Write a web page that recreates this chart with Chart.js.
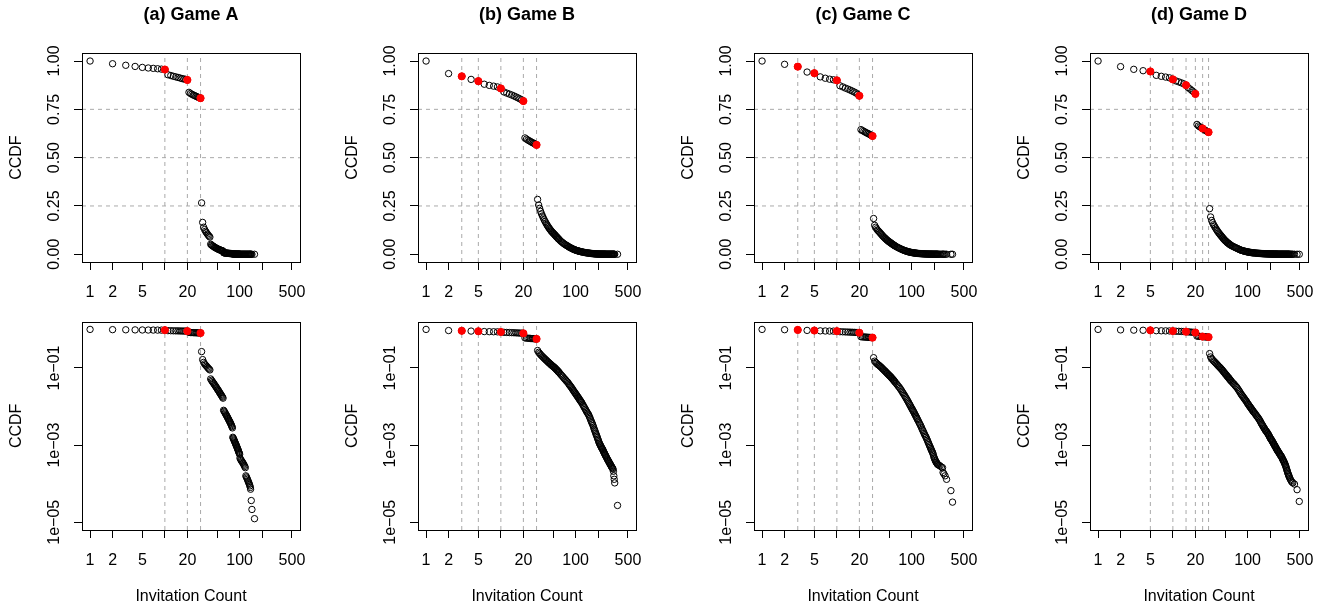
<!DOCTYPE html>
<html>
<head>
<meta charset="utf-8">
<script src="https://cdn.jsdelivr.net/npm/chart.js@4.4.1/dist/chart.umd.min.js"></script>
<style>
  html, body { margin: 0; padding: 0; background: #fff; overflow: hidden; }
  body { width: 1320px; height: 605px; position: relative; }
  canvas { position: absolute; }
</style>
</head>
<body>
<script>
// CCDF of invitation counts (same values feed both rows)
const gameAx = [1,2,3,4,5,6,7,8,9,10, 11,12,13,14,15,16,17,18,19,20, 21,22,23,24,25,26,27,28,29,30,
  31,32,33,34,35,36,37,38,39,40, 41,42,43,44,45,46,47,48,49,50, 51,52,53,54,55,56,57,58,59,60,
  61,62,63,64,65,66,67,68,69,70, 71,72,73,74,75,76,77,78,79,80, 81,82,83,84,85,86,87,88,89,90,
  91,92,93,94,95,96,97,98,99,100, 101,103,105,107,109,111,113,115,117,119,
  121,123,125,127,129,131,133,135,137,139, 140,143,146,158];
const gameAy = [1.000,0.986,0.978,0.972,0.967,0.964,0.962,0.960,0.958,0.956,
  0.929,0.925,0.921,0.918,0.915,0.912,0.909,0.907,0.905,0.902,
  0.838,0.832,0.828,0.824,0.821,0.818,0.815,0.812,0.810,0.808,
  0.266,0.165,0.140,0.128,0.119,0.112,0.105,0.099,0.094,0.089,
  0.052,0.048,0.045,0.042,0.040,0.037,0.035,0.033,0.031,0.029,
  0.0275,0.0260,0.0245,0.0230,0.0218,0.0206,0.0195,0.0185,0.0175,0.0165,
  0.0080,0.0076,0.0072,0.0068,0.0064,0.0061,0.0058,0.0055,0.0052,0.0049,
  0.0047,0.0044,0.0042,0.0040,0.0038,0.0036,0.0034,0.0032,0.0030,0.0028,
  0.00160,0.00152,0.00144,0.00136,0.00129,0.00122,0.00116,0.00110,0.00104,0.00099,
  0.00094,0.00089,0.00084,0.00080,0.00076,0.00072,0.00068,0.00064,0.00061,0.00058,
  0.00046,0.00043,0.00040,0.00038,0.00036,0.00034,0.00032,0.00030,0.00028,0.00026,
  0.00016,0.00015,0.00014,0.00013,0.00012,0.000112,0.000104,0.000096,0.000088,0.000080,
  0.000072,0.0000366,0.0000215,0.0000124];

const gameBx = [1,2,3,4,5,6,7,8,9,10, 11,12,13,14,15,16,17,18,19,20, 21,22,23,24,25,26,27,28,29,30,
  31,32,33,34,35,36,37,38,39,40, 41,42,43,44,45,46,47,48,49,50, 51,52,53,54,55,56,57,58,59,60,
  62,64,66,68,70,72,74,76,78,80, 82,84,86,88,90,92,94,96,98,100, 102,104,106,108,110,112,114,116,118,120,
  123,126,129,132,135,138,141,144,147,150, 153,156,159,162,165,168,171,174,177,180,
  183,186,189,192,195,198,201,204,207,210, 213,216,219,222,225,228,231,234,237,240, 243,246,249,
  252,256,260,264,268,272,276,280,284,288, 292,296,300,304,308,312,316,
  320,324,328,333,363];
const gameBy = [1.000,0.935,0.921,0.905,0.896,0.880,0.874,0.870,0.866,0.858,
  0.840,0.834,0.829,0.824,0.819,0.814,0.809,0.804,0.799,0.793,
  0.602,0.596,0.591,0.587,0.583,0.579,0.576,0.573,0.569,0.566,
  0.284,0.255,0.238,0.222,0.209,0.198,0.188,0.178,0.170,0.162,
  0.155,0.148,0.142,0.136,0.131,0.126,0.121,0.117,0.113,0.110,
  0.106,0.103,0.099,0.096,0.092,0.089,0.086,0.082,0.080,0.077,
  0.071,0.066,0.062,0.058,0.054,0.051,0.048,0.045,0.043,0.040,
  0.037,0.035,0.033,0.031,0.029,0.0272,0.0255,0.0240,0.0227,0.0215,
  0.0203,0.0192,0.0182,0.0173,0.0164,0.0155,0.0147,0.0140,0.0134,0.0128,
  0.0117,0.0108,0.0099,0.0092,0.0085,0.0078,0.0073,0.0068,0.0064,0.0060,
  0.0054,0.0050,0.0045,0.0041,0.0038,0.0035,0.0032,0.0029,0.0026,0.0024,
  0.0022,0.0020,0.00185,0.00171,0.00157,0.00144,0.00133,0.00122,0.00113,0.00107,
  0.00101,0.00096,0.00091,0.00086,0.00082,0.00079,0.00076,0.00071,0.00067,0.00064,
  0.00061,0.00058,0.00055,
  0.00053,0.00050,0.00047,0.00044,0.00042,0.00040,0.00038,0.00036,0.00034,0.00033,
  0.00031,0.00030,0.00028,0.00027,0.00026,0.00025,0.00024,
  0.00021,0.00016,0.00013,0.000105,0.0000273];

const gameCx = [1,2,3,4,5,6,7,8,9,10, 11,12,13,14,15,16,17,18,19,20, 21,22,23,24,25,26,27,28,29,30,
  31,32,33,34,35,36,37,38,39,40, 41,42,43,44,45,46,47,48,49,50, 51,52,53,54,55,56,57,58,59,60,
  62,64,66,68,70,72,74,76,78,80, 82,84,86,88,90,92,94,96,98,100, 102,104,106,108,110,112,114,116,118,120,
  123,126,129,132,135,138,141,144,147,150, 153,156,159,162,165,168,171,174,177,180, 183,186,189,192,
  195,198,201,204,207,210,213,216,219,222,
  226,232,240,250,259,263,270,280,293,335,352];
const gameCy = [1.000,0.983,0.971,0.943,0.937,0.918,0.911,0.906,0.903,0.900,
  0.872,0.866,0.860,0.855,0.850,0.845,0.840,0.835,0.828,0.820,
  0.645,0.640,0.636,0.632,0.628,0.625,0.622,0.618,0.615,0.612,
  0.185,0.150,0.140,0.132,0.125,0.120,0.115,0.110,0.105,0.100,
  0.095,0.091,0.087,0.083,0.080,0.076,0.073,0.070,0.067,0.065,
  0.062,0.060,0.058,0.055,0.053,0.051,0.049,0.047,0.045,0.043,
  0.040,0.037,0.034,0.032,0.0295,0.0272,0.0250,0.0230,0.0213,0.0196,
  0.0181,0.0167,0.0155,0.0143,0.0132,0.0122,0.0113,0.0105,0.0097,0.0090,
  0.0085,0.0079,0.0074,0.0069,0.0064,0.0060,0.0056,0.0053,0.0049,0.0046,
  0.0042,0.0038,0.0035,0.0032,0.0029,0.0026,0.0024,0.0022,0.0020,0.00185,
  0.00170,0.00160,0.00146,0.00134,0.00123,0.00113,0.00104,0.00096,0.00089,0.00082,
  0.00076,0.00071,0.00066,0.00062,
  0.00056,0.00050,0.00046,0.00043,0.00040,0.00038,0.00036,0.00035,0.00033,0.00032,
  0.00031,0.00030,0.00029,0.00027,0.00026,0.000195,0.00018,0.00016,0.00013,0.0000661,0.0000333];

const gameDx = [1,2,3,4,5,6,7,8,9,10, 11,12,13,14,15,16,17,18,19,20, 21,22,23,24,25,26,27,28,29,30,
  31,32,33,34,35,36,37,38,39,40, 41,42,43,44,45,46,47,48,49,50, 51,52,53,54,55,56,57,58,59,60,
  62,64,66,68,70,72,74,76,78,80, 82,84,86,88,90,92,94,96,98,100, 102,104,106,108,110,112,114,116,118,120,
  123,126,129,132,135,138,141,144,147,150, 153,156,159,162,165,168,171,174,177,180,
  183,186,189,192,195,198,201,204,207,210, 213,216,219,222,225,228,231,234,237,240, 243,246,249,
  252,256,260,264,268,272,276,280,284,288, 292,296,300,304,308,312,316,320,324,328,
  332,336,340,344,348,352,356,360, 366,374,382,392,402,423,458,490];
const gameDy = [1.000,0.971,0.957,0.950,0.946,0.926,0.921,0.917,0.913,0.905,
  0.897,0.892,0.887,0.882,0.875,0.863,0.855,0.847,0.840,0.830,
  0.672,0.664,0.659,0.655,0.651,0.646,0.642,0.638,0.635,0.632,
  0.236,0.193,0.175,0.163,0.153,0.145,0.137,0.130,0.123,0.117,
  0.111,0.106,0.101,0.096,0.092,0.087,0.083,0.078,0.075,0.071,
  0.068,0.065,0.062,0.059,0.057,0.055,0.052,0.050,0.048,0.046,
  0.043,0.040,0.038,0.035,0.033,0.031,0.0285,0.0265,0.0245,0.0225,
  0.0208,0.0196,0.0184,0.0173,0.0162,0.0153,0.0145,0.0137,0.0128,0.0120,
  0.0114,0.0108,0.0102,0.0097,0.0093,0.0088,0.0084,0.0080,0.0076,0.0073,
  0.0069,0.0065,0.0061,0.0057,0.0054,0.0051,0.0048,0.0045,0.0042,0.0039,
  0.0036,0.0034,0.0032,0.0030,0.0028,0.0027,0.0025,0.0024,0.0023,0.0022,
  0.0021,0.0020,0.0019,0.0018,0.0017,0.0016,0.0015,0.00145,0.00140,0.00133,
  0.00127,0.00121,0.00116,0.00110,0.00105,0.00100,0.00096,0.00092,0.00088,0.00084,
  0.00080,0.00077,0.00074,
  0.00071,0.00068,0.00065,0.00062,0.00059,0.00056,0.00054,0.00052,0.00050,0.00047,
  0.00044,0.00042,0.00040,0.00038,0.00036,0.00034,0.00032,0.00030,0.00028,0.00026,
  0.00024,0.00022,0.00021,0.00019,0.00018,0.00017,0.00016,0.00015,
  0.00014,0.000128,0.000118,0.00011,0.000105,0.0000978,0.0000700,0.0000347];

// reward thresholds: red dots + dashed vertical lines
const cutsA = [10, 20, 30];
const cutsB = [3, 5, 10, 20, 30];
const cutsC = [3, 5, 10, 20, 30];
const cutsD = [5, 10, 15, 20, 25, 30];

const titles = ['(a) Game A', '(b) Game B', '(c) Game C', '(d) Game D'];

const xTicks = [1, 2, 5, 10, 20, 50, 100, 200, 500];
const xTickLabels = ['1', '2', '5', '', '20', '', '100', '', '500'];
const yTicksLin = [0, 0.25, 0.5, 0.75, 1];
const yLabelsLin = ['0.00', '0.25', '0.50', '0.75', '1.00'];
const yTicksLog = [1e-5, 1e-3, 1e-1];
const yLabelsLog = ['1e\u221205', '1e\u221203', '1e\u221201'];
const hLines = [0.25, 0.5, 0.75];

const gamesX = [gameAx, gameBx, gameCx, gameDx];
const gamesY = [gameAy, gameBy, gameCy, gameDy];
const gameCuts = [cutsA, cutsB, cutsC, cutsD];

Chart.defaults.font.family = '"Liberation Sans", Arial, Helvetica, sans-serif';
Chart.defaults.color = '#000';

// R style 4% axis extension around xlim = c(1, 500)
const xPad = 0.04 * Math.log10(500);
const xMin = Math.pow(10, -xPad);
const xMax = Math.pow(10, Math.log10(500) + xPad);

const boxPlugin = {
  id: 'box',
  afterDraw(chart) {
    const { ctx, chartArea: a } = chart;
    const l = Math.round(a.left) + 0.5, t = Math.round(a.top) + 0.5;
    const r = Math.round(a.right) + 0.5, b = Math.round(a.bottom) + 0.5;
    ctx.save();
    ctx.strokeStyle = '#000';
    ctx.lineWidth = 1;
    ctx.strokeRect(l, t, r - l, b - t);
    ctx.restore();
  }
};

function refLine(data) {
  return {
    type: 'line', data: data, showLine: true,
    borderColor: '#aaaaaa', borderWidth: 1, borderDash: [4, 4],
    pointRadius: 0, fill: false, tension: 0
  };
}

function makePanel(col, row) {
  const logY = row === 1;
  const canvas = document.createElement('canvas');
  canvas.width = 312;
  canvas.height = logY ? 305 : 300;
  canvas.style.left = (col * 336) + 'px';
  canvas.style.top = (logY ? 300 : 0) + 'px';
  document.body.appendChild(canvas);

  const pts = gamesX[col].map((x, i) => ({ x: x, y: gamesY[col][i] }));
  const cuts = gameCuts[col];
  const red = cuts.map(c => pts.find(p => p.x === c));
  const yMin = logY ? Math.pow(10, -5.2) : -0.04;
  const yMax = logY ? Math.pow(10, 0.2) : 1.04;

  const datasets = [
    { data: red, pointRadius: 3.6, pointBackgroundColor: '#ff0000', pointBorderColor: '#ff0000', pointBorderWidth: 1 },
    { data: pts, pointRadius: 3.2, pointBackgroundColor: 'rgba(0,0,0,0)', pointBorderColor: '#000', pointBorderWidth: 1 }
  ];
  cuts.forEach(c => datasets.push(refLine([{ x: c, y: yMin }, { x: c, y: yMax }])));
  if (!logY) hLines.forEach(h => datasets.push(refLine([{ x: xMin, y: h }, { x: xMax, y: h }])));

  const yTicks = logY ? yTicksLog : yTicksLin;
  const yLabels = logY ? yLabelsLog : yLabelsLin;

  new Chart(canvas, {
    type: 'scatter',
    data: { datasets: datasets },
    options: {
      responsive: false,
      animation: false,
      events: [],
      devicePixelRatio: 1,
      layout: { padding: { left: 0, right: 12, top: logY ? 21.7 : 0, bottom: 0 } },
      plugins: {
        legend: { display: false },
        tooltip: { enabled: false },
        title: {
          display: !logY, text: titles[col], fullSize: false, color: '#000',
          font: { size: 18, weight: 'bold' },
          padding: { top: 4.2, bottom: 27.5 }
        }
      },
      scales: {
        x: {
          type: 'logarithmic', min: xMin, max: xMax, bounds: 'data',
          afterBuildTicks: s => { s.ticks = xTicks.map(v => ({ value: v })); },
          afterFit: s => { s.height = logY ? 75 : 38; s.paddingLeft = 0; s.paddingRight = 0; },
          ticks: {
            autoSkip: false, minRotation: 0, maxRotation: 0, padding: 13, color: '#000',
            font: { size: 16 },
            callback: (v, i) => xTickLabels[i]
          },
          grid: { drawOnChartArea: false, drawTicks: true, tickLength: 8, tickColor: '#000', tickWidth: 1 },
          border: { display: false },
          title: {
            display: logY, text: 'Invitation Count', color: '#000',
            font: { size: 16, lineHeight: 1 }, padding: { top: 0, bottom: 0 }
          }
        },
        y: {
          type: logY ? 'logarithmic' : 'linear', min: yMin, max: yMax, bounds: 'data',
          afterBuildTicks: s => { s.ticks = yTicks.map(v => ({ value: v })); },
          afterFit: s => { s.width = 82; s.paddingTop = 0; s.paddingBottom = 0; },
          ticks: {
            autoSkip: false, minRotation: 90, maxRotation: 90, crossAlign: 'center',
            padding: logY ? -3.5 : 3.7, color: '#000', font: { size: 16 },
            callback: (v, i) => yLabels[i]
          },
          grid: { drawOnChartArea: false, drawTicks: true, tickLength: 8, tickColor: '#000', tickWidth: 1 },
          border: { display: false },
          title: {
            display: true, text: 'CCDF', color: '#000',
            font: { size: 16 }, padding: { top: 7, bottom: 0 }
          }
        }
      }
    },
    plugins: [boxPlugin]
  });
}

for (let row = 0; row < 2; row++) {
  for (let col = 0; col < 4; col++) {
    makePanel(col, row);
  }
}
</script>
</body>
</html>
